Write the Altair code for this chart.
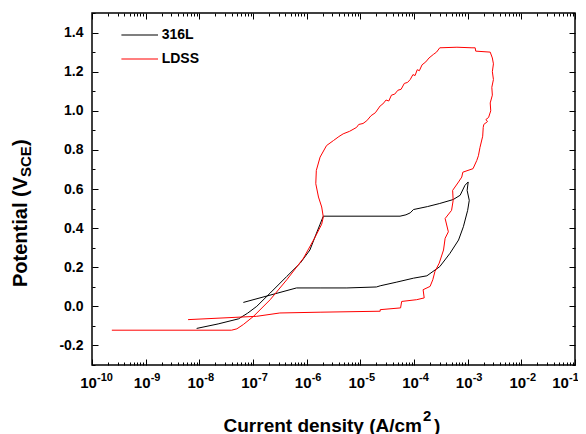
import altair as alt
import pandas as pd

F = "Liberation Sans"
series_names = ["316L", "LDSS"]
series_colors = ["#000000", "#ff0000"]

# log10 of current density (A/cm2) and potential (V vs SCE)
ss316_logi = [-8.05, -7.65, -7.27, -7.10, -6.93, -6.68, -6.37, -6.12, -5.94, -5.83, -5.75, -5.69,
              -4.26, -4.15, -4.07, -4.01, -3.75, -3.52, -3.27, -3.14, -3.05, -2.99,
              -3.01, -2.97, -3.00, -3.08, -3.17, -3.33, -3.52, -3.76, -4.01, -4.32, -4.63,
              -4.70, -5.25, -5.75, -6.19, -7.18]
ss316_e = [-0.113, -0.090, -0.064, -0.035, 0.000, 0.068, 0.153, 0.221, 0.288, 0.365, 0.420, 0.461,
           0.461, 0.468, 0.478, 0.495, 0.510, 0.526, 0.546, 0.568, 0.619, 0.636,
           0.593, 0.542, 0.491, 0.407, 0.339, 0.271, 0.203, 0.156, 0.144, 0.124, 0.105,
           0.099, 0.094, 0.094, 0.094, 0.020]

ldss_logi = [-9.63, -7.40, -7.30, -7.18, -6.99, -6.68, -6.37, -6.06, -5.85, -5.72, -5.69,
             -5.72, -5.78, -5.83, -5.82, -5.75, -5.63, -5.50, -5.40, -5.32, -5.20, -5.07,
             -5.03, -4.95, -4.88, -4.80, -4.72, -4.63, -4.58, -4.52, -4.47, -4.42, -4.36,
             -4.30, -4.24, -4.18, -4.12, -4.07, -4.02, -3.98, -3.94, -3.90, -3.85, -3.78,
             -3.72, -3.64, -3.58, -3.52, -3.20, -2.92, -2.86, -2.85, -2.58, -2.54, -2.52,
             -2.54, -2.52, -2.55, -2.54, -2.58, -2.57, -2.61, -2.66, -2.63, -2.70, -2.71,
             -2.72, -2.77, -2.80, -2.83, -2.90, -3.09, -3.11, -3.17, -3.28, -3.27, -3.30,
             -3.42, -3.36, -3.42, -3.45, -3.53, -3.61, -3.65, -3.70, -3.83, -3.81, -3.95,
             -4.23, -4.25, -4.63, -4.63, -5.75, -6.50, -6.93, -8.21]
ldss_e = [-0.122, -0.122, -0.115, -0.093, -0.051, 0.034, 0.136, 0.246, 0.350, 0.420, 0.457,
          0.508, 0.559, 0.627, 0.695, 0.763, 0.822, 0.848, 0.868, 0.882, 0.895, 0.915,
          0.930, 0.935, 0.949, 0.975, 0.990, 1.025, 1.035, 1.055, 1.050, 1.080, 1.085,
          1.105, 1.110, 1.140, 1.145, 1.160, 1.185, 1.180, 1.210, 1.205, 1.235, 1.250,
          1.270, 1.288, 1.300, 1.322, 1.325, 1.322, 1.322, 1.305, 1.300, 1.270, 1.240,
          1.200, 1.160, 1.120, 1.080, 1.040, 1.000, 0.966, 0.955, 0.945, 0.930, 0.915,
          0.870, 0.813, 0.770, 0.746, 0.704, 0.686, 0.661, 0.636, 0.593, 0.542, 0.491,
          0.449, 0.381, 0.348, 0.288, 0.221, 0.178, 0.136, 0.102, 0.085, 0.043, 0.034,
          0.025, -0.008, -0.017, -0.025, -0.030, -0.034, -0.051, -0.068]

x_major = [10.0 ** k for k in range(-10, 0)]
x_minor = [m * 10.0 ** k for k in range(-10, -1) for m in range(2, 10)]
y_major = [round(-0.2 + 0.2 * i, 1) for i in range(9)]
y_minor = [round(-0.3 + 0.2 * i, 1) for i in range(10)]

rows = []
for name, li, ee in [(series_names[0], ss316_logi, ss316_e), (series_names[1], ldss_logi, ldss_e)]:
    for i, (a, b) in enumerate(zip(li, ee)):
        rows.append({"series": name, "current": 10.0 ** a, "potential": b, "i": i})
df = pd.DataFrame(rows)

xscale = alt.Scale(type="log", domain=[1e-10, 1e-1], nice=False)
yscale = alt.Scale(domain=[-0.3, 1.5], nice=False, zero=False)


def xe(axis):
    return alt.X("current:Q", scale=xscale, axis=axis)


def ye(axis):
    return alt.Y("potential:Q", scale=yscale, axis=axis)


last_tick = "datum.value > 0.05"

lines = alt.Chart(df).mark_line(strokeWidth=1, clip=True).encode(
    x=xe(alt.Axis(orient="bottom", values=x_major, tickSize=6, offset=-6, labelExpr="'10'",
                  labelFontSize=15, labelAlign="center",
                  labelOffset={"condition": {"test": last_tick, "value": -15}, "value": -4},
                  labelPadding=10, title=None)),
    y=ye(alt.Axis(orient="left", values=y_major, tickSize=6, offset=-6,
                  labelExpr="datum.value < 0 ? '-' + format(-datum.value, '.1f') : format(datum.value, '.1f')",
                  labelFontSize=14, labelPadding=9, title=None)),
    color=alt.Color("series:N", scale=alt.Scale(domain=series_names, range=series_colors),
                    legend=alt.Legend(title=None, orient="none", legendX=28.7, legendY=15,
                                      symbolType="stroke", symbolSize=1340, symbolStrokeWidth=1.2,
                                      labelFont=F, labelFontSize=14, labelFontWeight="bold",
                                      labelColor="black", labelOffset=3, clipHeight=14,
                                      rowPadding=10, padding=0)),
    order="i:Q",
)

expo = alt.Chart(df).mark_point(opacity=0).encode(
    x=xe(alt.Axis(orient="bottom", values=x_major, ticks=False, tickSize=0,
                  labelExpr="toString(round(log(datum.value) / LN10))",
                  labelFontSize=11, labelAlign="left",
                  labelOffset={"condition": {"test": last_tick, "value": -6.5}, "value": 4.5},
                  labelPadding=6, title=None)),
    y=ye(alt.Axis(orient="left", values=y_minor, tickSize=3, offset=-3, labels=False, title=None)),
)

minor_bl = alt.Chart(df).mark_point(opacity=0).encode(
    x=xe(alt.Axis(orient="bottom", values=x_minor, tickSize=3, offset=-3, labels=False, title=None)),
    y=ye(alt.Axis(orient="right", values=y_minor, tickSize=3, offset=-3, labels=False, title=None)),
)

major_tr = alt.Chart(df).mark_point(opacity=0).encode(
    x=xe(alt.Axis(orient="top", values=x_major, tickSize=6, offset=-6, labels=False, title=None)),
    y=ye(alt.Axis(orient="right", values=y_major, tickSize=6, offset=-6, labels=False, title=None)),
)

minor_t = alt.Chart(df).mark_point(opacity=0).encode(
    x=xe(alt.Axis(orient="top", values=x_minor, tickSize=3, offset=-3, labels=False, title=None)),
)

one = pd.DataFrame({"k": [0]})


def txt(s, size, x, y, align="left", angle=0):
    return alt.Chart(one).mark_text(text=s, font=F, fontSize=size, fontWeight="bold",
                                    align=align, baseline="alphabetic", angle=angle,
                                    color="black").encode(x=alt.value(x), y=alt.value(y))


titles = [
    txt("Current density (A/cm", 19, 330, 418.5, align="right"),
    txt("2", 15, 331, 408),
    txt(")", 19, 342, 418.5),
    txt("Potential (V", 20, -65, 274, angle=270),
    txt("SCE", 15, -61, 164, angle=270),
    txt(")", 20, -65, 133, angle=270),
]

chart = alt.layer(lines, expo, minor_bl, major_tr, minor_t, *titles).resolve_axis(
    x="independent", y="independent"
).properties(
    width=483, height=352,
    autosize=alt.AutoSizeParams(type="none"),
    padding={"left": 84, "top": 5, "right": 3, "bottom": 69},
).configure_axis(
    labelFont=F, labelFontWeight="bold", labelColor="black", tickColor="black",
    tickWidth=1, grid=False, domain=False,
).configure_view(stroke="black", strokeWidth=1.5)

chart.save("out.html", embed_options={"renderer": "svg", "actions": False})
